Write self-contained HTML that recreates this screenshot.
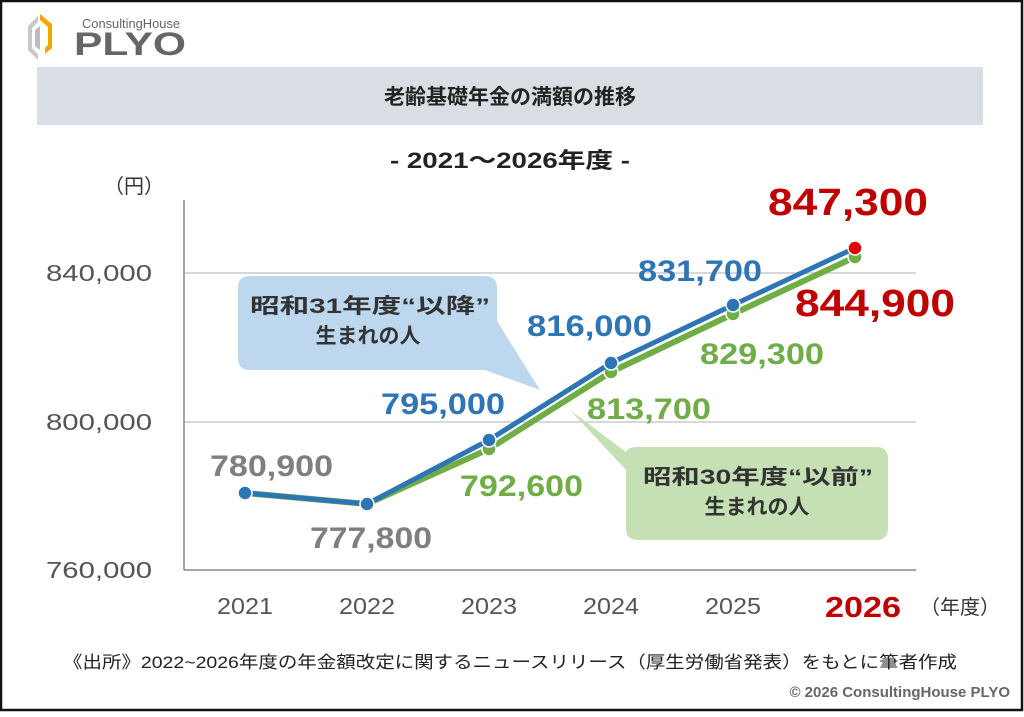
<!DOCTYPE html>
<html><head><meta charset="utf-8"><style>
body{margin:0;width:1024px;height:712px;overflow:hidden;background:#fff}
svg text{font-family:"Liberation Sans","Noto Sans CJK JP",sans-serif}
</style></head><body>
<svg width="1024" height="712" viewBox="0 0 1024 712" xmlns="http://www.w3.org/2000/svg">
<rect x="1" y="1" width="1021" height="709" fill="#fff" stroke="#111" stroke-width="2.5"/>
<!-- logo -->
<polygon points="28,26 38,16 38,22 32,28 32,48 38,54 38,60 28,50" fill="#c8c8c8"/>
<polygon points="40,14 52,24 52,48 45,54 45,48 48,45 48,27 40,20" fill="#f0a500"/>
<polygon points="35,30 40,26 40,50 35,46" fill="#bbb"/>
<text x="82" y="28" font-size="13" fill="#666" textLength="98" lengthAdjust="spacingAndGlyphs">ConsultingHouse</text>
<text x="74" y="55" font-size="32" font-weight="bold" fill="#666" textLength="112" lengthAdjust="spacingAndGlyphs">PLYO</text>
<!-- title band -->
<rect x="37" y="67" width="946" height="58" fill="#d9dde4"/>
<text x="510" y="104" font-size="21" font-weight="bold" text-anchor="middle" fill="#222">老齢基礎年金の満額の推移</text>
<text x="390" y="168" font-size="22" font-weight="bold" fill="#222" textLength="240" lengthAdjust="spacingAndGlyphs">- 2021～2026年度 -</text>
<text x="104" y="193" font-size="20" fill="#333">（円）</text>
<!-- grid -->
<line x1="184" y1="273" x2="916" y2="273" stroke="#d8d8d8" stroke-width="2"/>
<line x1="184" y1="422" x2="916" y2="422" stroke="#d8d8d8" stroke-width="2"/>
<line x1="184" y1="570" x2="916" y2="570" stroke="#888" stroke-width="1.5"/>
<line x1="184" y1="200" x2="184" y2="570" stroke="#888" stroke-width="1.5"/>
<g font-size="23" fill="#555" lengthAdjust="spacingAndGlyphs">
<text x="46" y="281" textLength="106" lengthAdjust="spacingAndGlyphs">840,000</text><text x="46" y="430" textLength="106" lengthAdjust="spacingAndGlyphs">800,000</text><text x="46" y="578" textLength="106" lengthAdjust="spacingAndGlyphs">760,000</text></g>
<g font-size="23" fill="#555">
<text x="217" y="614" textLength="56" lengthAdjust="spacingAndGlyphs">2021</text><text x="339" y="614" textLength="56" lengthAdjust="spacingAndGlyphs">2022</text><text x="461" y="614" textLength="56" lengthAdjust="spacingAndGlyphs">2023</text><text x="583" y="614" textLength="56" lengthAdjust="spacingAndGlyphs">2024</text><text x="705" y="614" textLength="56" lengthAdjust="spacingAndGlyphs">2025</text></g>
<text x="825" y="617" font-size="29" font-weight="bold" fill="#c00000" textLength="76" lengthAdjust="spacingAndGlyphs">2026</text>
<text x="920" y="614" font-size="20" fill="#333">（年度）</text>
<!-- callouts -->
<path d="M250,276 H485 Q497,276 497,288 V321 L540,390 L485,370 H250 Q238,370 238,358 V288 Q238,276 250,276Z" fill="#bdd7ee"/>
<text x="250" y="313" font-size="21" font-weight="bold" fill="#333" textLength="240" lengthAdjust="spacingAndGlyphs">昭和31年度“以降”</text>
<text x="368" y="343" font-size="21" font-weight="bold" fill="#333" text-anchor="middle">生まれの人</text>
<path d="M638,447 H876 Q888,447 888,459 V528 Q888,540 876,540 H638 Q626,540 626,528 V470 L570,410 L626,452 Q628,447 638,447Z" fill="#c5e0b4"/>
<text x="643" y="484" font-size="21" font-weight="bold" fill="#333" textLength="230" lengthAdjust="spacingAndGlyphs">昭和30年度“以前”</text>
<text x="757" y="514" font-size="21" font-weight="bold" fill="#333" text-anchor="middle">生まれの人</text>
<!-- series -->
<polyline points="245,493 367,504 489,449 611,372 733,314 855,257" fill="none" stroke="#70ad47" stroke-width="6"/>
<g fill="#70ad47" stroke="#fff" stroke-width="1.5"><circle cx="489" cy="449" r="7"/><circle cx="611" cy="372" r="7"/><circle cx="733" cy="314" r="7"/><circle cx="855" cy="257" r="7"/></g>
<polyline points="245,493 367,504 489,440 611,363 733,305 855,248" fill="none" stroke="#2e75b6" stroke-width="5"/>
<g fill="#2e75b6" stroke="#fff" stroke-width="1.5"><circle cx="245" cy="493" r="7"/><circle cx="367" cy="504" r="7"/><circle cx="489" cy="440" r="7"/><circle cx="611" cy="363" r="7"/><circle cx="733" cy="305" r="7"/></g>
<circle cx="855" cy="248" r="7" fill="#e00000" stroke="#fff" stroke-width="1.5"/>
<!-- labels -->
<g font-size="30" font-weight="bold">
<text x="210" y="476" fill="#7f7f7f" textLength="123" lengthAdjust="spacingAndGlyphs">780,900</text>
<text x="310" y="548" fill="#7f7f7f" textLength="122" lengthAdjust="spacingAndGlyphs">777,800</text>
<text x="381" y="414" fill="#2e75b6" textLength="124" lengthAdjust="spacingAndGlyphs">795,000</text>
<text x="460" y="496" fill="#70ad47" textLength="123" lengthAdjust="spacingAndGlyphs">792,600</text>
<text x="527" y="336" fill="#2e75b6" textLength="125" lengthAdjust="spacingAndGlyphs">816,000</text>
<text x="587" y="419" fill="#70ad47" textLength="124" lengthAdjust="spacingAndGlyphs">813,700</text>
<text x="638" y="281" fill="#2e75b6" textLength="124" lengthAdjust="spacingAndGlyphs">831,700</text>
<text x="700" y="364" fill="#70ad47" textLength="124" lengthAdjust="spacingAndGlyphs">829,300</text>
</g>
<g font-size="38" font-weight="bold" fill="#c00000">
<text x="768" y="215" textLength="160" lengthAdjust="spacingAndGlyphs">847,300</text>
<text x="795" y="316" textLength="160" lengthAdjust="spacingAndGlyphs">844,900</text></g>
<text x="63" y="668" font-size="17" fill="#222" textLength="894" lengthAdjust="spacingAndGlyphs">《出所》2022~2026年度の年金額改定に関するニュースリリース（厚生労働省発表）をもとに筆者作成</text>
<text x="1010" y="697" font-size="15" font-weight="bold" fill="#666" text-anchor="end">© 2026 ConsultingHouse PLYO</text>
</svg>
</body></html>
